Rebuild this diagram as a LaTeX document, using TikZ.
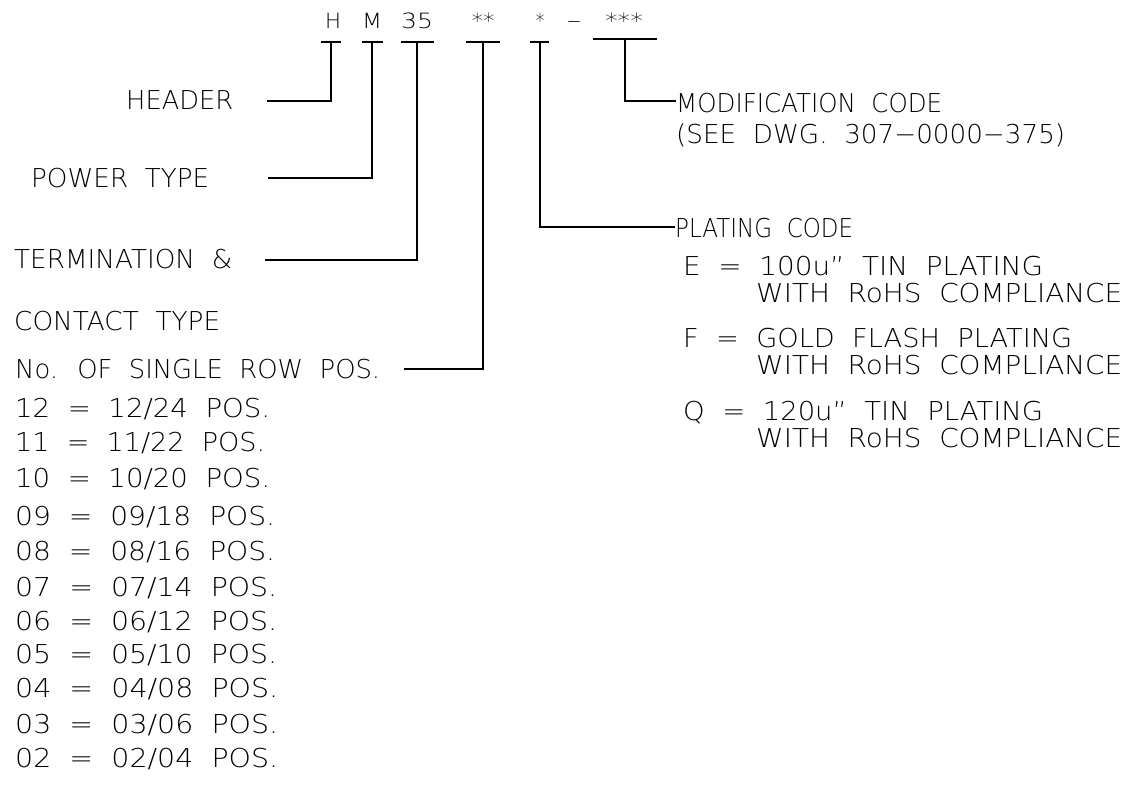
\documentclass[tikz,border=0pt]{standalone}
\usepackage{graphicx}
\usepackage{fontspec}
\setmainfont{DejaVu Sans ExtraLight}[WordSpace=2]
\newcommand{\fitw}[2]{\resizebox{#1pt}{\height}{#2}}
\begin{document}
\begin{tikzpicture}[x=1pt,y=-1pt,
  lbl/.style={anchor=base west, inner sep=0pt, font=\fontsize{26}{26}\selectfont},
  code/.style={anchor=base, inner sep=0pt, font=\fontsize{21}{21}\selectfont},
  wire/.style={line width=1.1pt, line cap=butt}]
\useasboundingbox (0,0) rectangle (1131,789);
% part number characters
\node[code] (cH) at (333,29) {\fitw{16}{H}};
\node[code] (cM) at (372,29) {\fitw{20}{M}};
\node[code] (c35) at (417,29) {\fitw{32}{35}};
\node[code] (cA) at (483,29) {\fitw{23}{**}};
\node[code] (cB) at (540,29) {\fitw{9}{*}};
\node[code] (cD) at (574,29) {\fitw{15}{−}};
\node[code] (cC) at (624,29) {\fitw{38}{***}};
% bars
\coordinate (bH) at (331,42);
\coordinate (bM) at (372,42);
\coordinate (b35) at (417,42);
\coordinate (bA) at (483,42);
\coordinate (bB) at (540,42);
\coordinate (bC) at (625,39);
\draw[wire] (321,42) -- (341,42);
\draw[wire] (362,42) -- (383,42);
\draw[wire] (401,42) -- (434,42);
\draw[wire] (466,42) -- (500,42);
\draw[wire] (530,42) -- (549,42);
\draw[wire] (593,39) -- (657,39);
% left labels
\node[lbl] (header) at (126,110) {\fitw{107}{HEADER}};
\node[lbl] (power) at (31,187) {\fitw{178}{POWER TYPE}};
\node[lbl] (term) at (14,268) {\fitw{218}{TERMINATION \&}};
\node[lbl] (contact) at (14,330) {\fitw{206}{CONTACT TYPE}};
\node[lbl] (rows) at (15,378) {\fitw{365}{No. OF SINGLE ROW POS.}};
\node[lbl] (p12) at (15,417) {\fitw{255}{12 = 12/24 POS.}};
\node[lbl] (p11) at (15,451) {\fitw{250}{11 = 11/22 POS.}};
\node[lbl] (p10) at (15,487) {\fitw{255}{10 = 10/20 POS.}};
\node[lbl] (p09) at (15,525) {\fitw{260}{09 = 09/18 POS.}};
\node[lbl] (p08) at (15,560) {\fitw{260}{08 = 08/16 POS.}};
\node[lbl] (p07) at (15,596) {\fitw{262}{07 = 07/14 POS.}};
\node[lbl] (p06) at (15,630) {\fitw{262}{06 = 06/12 POS.}};
\node[lbl] (p05) at (15,663) {\fitw{262}{05 = 05/10 POS.}};
\node[lbl] (p04) at (15,697) {\fitw{263}{04 = 04/08 POS.}};
\node[lbl] (p03) at (15,733) {\fitw{263}{03 = 03/06 POS.}};
\node[lbl] (p02) at (15,767) {\fitw{263}{02 = 02/04 POS.}};
% right labels
\node[lbl] (mod) at (676,113) {\fitw{266}{MODIFICATION CODE}};
\node[lbl] (dwg) at (676,143) {\fitw{389}{(SEE DWG. 307−0000−375)}};
\node[lbl] (plat) at (675,237) {\fitw{178}{PLATING CODE}};
\node[lbl] (pe) at (683,275) {\fitw{360}{E = 100u” TIN PLATING}};
\node[lbl] (we) at (756,302) {\fitw{366}{WITH RoHS COMPLIANCE}};
\node[lbl] (pf) at (683,347) {\fitw{389}{F = GOLD FLASH PLATING}};
\node[lbl] (wf) at (756,374) {\fitw{366}{WITH RoHS COMPLIANCE}};
\node[lbl] (pq) at (683,420) {\fitw{360}{Q = 120u” TIN PLATING}};
\node[lbl] (wq) at (756,447) {\fitw{366}{WITH RoHS COMPLIANCE}};
% connector ends
\coordinate (eH) at (267,101);
\coordinate (eM) at (268,178);
\coordinate (e35) at (265,260);
\coordinate (eA) at (404,369);
\coordinate (eB) at (675,227);
\coordinate (eC) at (676,101);
\draw[wire] (bH) |- (eH);
\draw[wire] (bM) |- (eM);
\draw[wire] (b35) |- (e35);
\draw[wire] (bA) |- (eA);
\draw[wire] (bB) |- (eB);
\draw[wire] (bC) |- (eC);
\end{tikzpicture}
\end{document}
